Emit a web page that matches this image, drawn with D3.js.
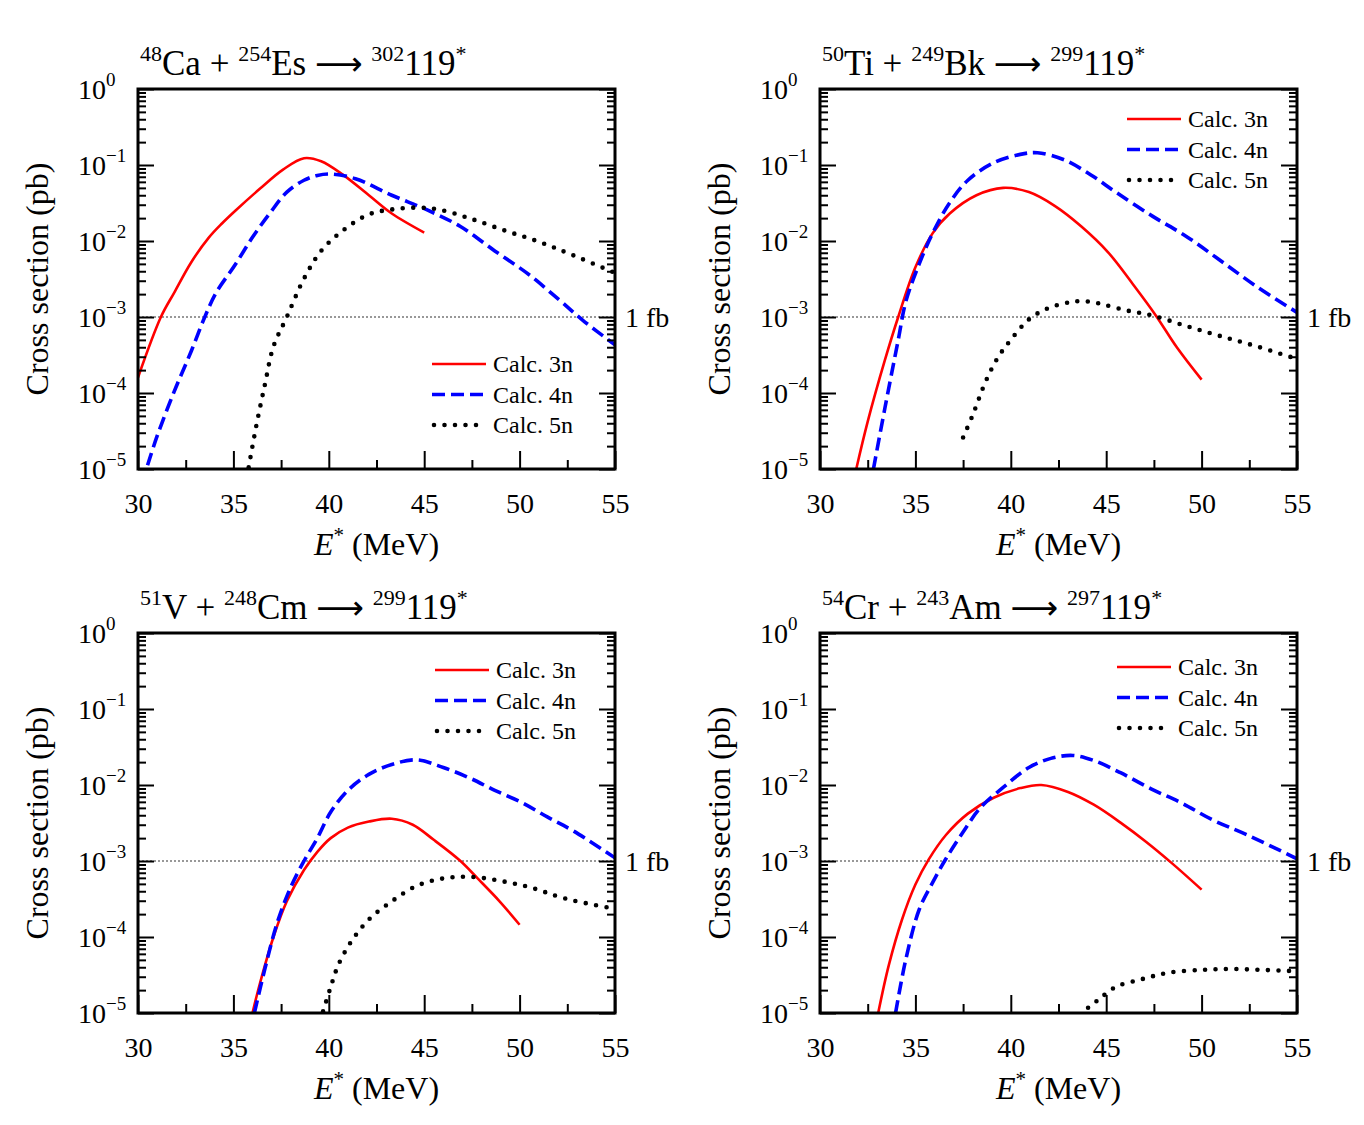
<!DOCTYPE html>
<html>
<head>
<meta charset="utf-8">
<script src="https://cdn.jsdelivr.net/npm/d3@7"></script>
<style>
  body { margin: 0; background: #fff; }
  svg { display: block; }
</style>
</head>
<body>
<svg id="chart" width="1364" height="1125"></svg>
<script>
// ---- data (E* in MeV, cross section in pb) ----
const seriesNames = ["Calc. 3n", "Calc. 4n", "Calc. 5n"];
const xTickLabels = [30, 35, 40, 45, 50, 55];

// 48Ca + 254Es
const caEs3nE = [30, 31.2, 31.9, 32.8, 33.7, 34.4, 35.1, 36.4, 37.6, 38.7, 39.6, 40.75, 42.1, 43.3, 45];
const caEs3nS = [1.6e-4, 1.0e-3, 2.1e-3, 5.3e-3, 1.1e-2, 1.7e-2, 2.5e-2, 4.9e-2, 8.7e-2, 0.123, 0.112, 0.074, 0.040, 0.023, 0.0129];
const caEs4nE = [30.5, 31.0, 31.9, 32.8, 33.5, 34.1, 35.1, 36.0, 36.9, 37.8, 38.7, 39.4, 40.1, 41.4, 43.3, 45.1, 46.9, 48.7, 50.5, 52.1, 53.3, 55];
const caEs4nS = [1.12e-5, 2.7e-5, 1.05e-4, 3.6e-4, 1.0e-3, 2.1e-3, 4.9e-3, 1.12e-2, 2.3e-2, 4.4e-2, 6.3e-2, 7.3e-2, 7.6e-2, 6.6e-2, 4.0e-2, 2.6e-2, 1.55e-2, 7.4e-3, 3.6e-3, 1.66e-3, 9.1e-4, 4.3e-4];
const caEs5nE = [35.8, 36.2, 36.65, 37.1, 37.8, 38.7, 39.6, 40.75, 42.1, 43.3, 44.6, 45.75, 47.35, 49.2, 51.0, 52.8, 55];
const caEs5nS = [1.05e-5, 3.7e-5, 1.29e-4, 4.1e-4, 1.0e-3, 3.2e-3, 7.4e-3, 1.38e-2, 2.24e-2, 2.6e-2, 2.75e-2, 2.6e-2, 2.0e-2, 1.38e-2, 9.8e-3, 6.5e-3, 3.8e-3];

// 50Ti + 249Bk
const tiBk3nE = [31.9, 32.5, 33.4, 34.1, 35.0, 35.9, 36.8, 38.2, 39.6, 40.95, 42.3, 43.7, 45.1, 46.45, 47.6, 48.7, 50];
const tiBk3nS = [1.0e-5, 4.2e-5, 2.7e-4, 1.0e-3, 4.5e-3, 1.26e-2, 2.3e-2, 4.0e-2, 5.0e-2, 4.4e-2, 2.9e-2, 1.55e-2, 7.1e-3, 2.6e-3, 1.05e-3, 4.0e-4, 1.5e-4];
const tiBk4nE = [32.8, 33.4, 34.1, 34.5, 35.2, 35.9, 36.8, 37.75, 39.1, 40.5, 41.4, 42.8, 44.2, 45.5, 47.4, 49.2, 51.0, 52.9, 55];
const tiBk4nS = [1.0e-5, 6.3e-5, 5.0e-4, 1.6e-3, 5.0e-3, 1.26e-2, 3.2e-2, 6.3e-2, 0.107, 0.138, 0.145, 0.117, 0.074, 0.044, 0.0214, 0.0115, 5.5e-3, 2.5e-3, 1.15e-3];
const tiBk5nE = [37.5, 38.0, 38.7, 39.35, 40.0, 40.95, 41.9, 43.0, 43.7, 44.6, 46.0, 47.4, 49.2, 51.0, 52.9, 55];
const tiBk5nS = [2.6e-5, 5.1e-5, 1.45e-4, 3.0e-4, 5.0e-4, 9.3e-4, 1.29e-3, 1.55e-3, 1.62e-3, 1.51e-3, 1.23e-3, 1.05e-3, 7.6e-4, 5.6e-4, 4.1e-4, 2.8e-4];

// 51V + 248Cm
const vCm3nE = [36.0, 36.4, 37.1, 37.8, 38.7, 39.4, 40.1, 41.0, 42.1, 43.3, 44.4, 45.5, 46.9, 47.8, 48.95, 50];
const vCm3nS = [1.0e-5, 2.5e-5, 1.0e-4, 2.95e-4, 7.6e-4, 1.32e-3, 2.0e-3, 2.75e-3, 3.3e-3, 3.6e-3, 3.0e-3, 1.9e-3, 1.0e-3, 5.9e-4, 2.95e-4, 1.45e-4];
const vCm4nE = [36.1, 36.65, 37.3, 38.0, 38.7, 39.4, 40.1, 41.0, 42.1, 43.3, 44.6, 46.0, 47.4, 48.7, 50.1, 51.45, 52.8, 55];
const vCm4nS = [1.0e-5, 3.8e-5, 1.55e-4, 4.5e-4, 1.0e-3, 2.0e-3, 4.4e-3, 8.5e-3, 1.38e-2, 1.86e-2, 2.14e-2, 1.7e-2, 1.23e-2, 8.5e-3, 5.9e-3, 3.8e-3, 2.5e-3, 1.1e-3];
const vCm5nE = [39.7, 40.1, 40.5, 41.2, 42.1, 43.3, 44.6, 46.0, 47.4, 48.95, 50.55, 52.4, 55];
const vCm5nS = [1.05e-5, 2.2e-5, 4.3e-5, 8.9e-5, 1.7e-4, 2.95e-4, 4.7e-4, 5.9e-4, 6.2e-4, 5.5e-4, 4.5e-4, 3.2e-4, 2.35e-4];

// 54Cr + 243Am
const crAm3nE = [33.05, 33.6, 34.3, 35.0, 35.7, 36.6, 37.75, 39.1, 40.5, 41.6, 43.0, 44.35, 45.75, 47.1, 48.5, 50];
const crAm3nS = [1.0e-5, 4.2e-5, 1.7e-4, 4.9e-4, 1.05e-3, 2.2e-3, 4.2e-3, 6.8e-3, 9.1e-3, 1.0e-2, 8.1e-3, 5.5e-3, 3.2e-3, 1.78e-3, 9.1e-4, 4.2e-4];
const crAm4nE = [33.96, 34.5, 35.2, 35.9, 36.6, 37.5, 38.4, 39.6, 40.95, 42.1, 43.25, 44.35, 45.75, 47.35, 48.95, 50.55, 52.4, 55];
const crAm4nS = [1.0e-5, 5.1e-5, 2.3e-4, 5.2e-4, 1.07e-3, 2.4e-3, 5.0e-3, 9.3e-3, 1.7e-2, 2.24e-2, 2.45e-2, 2.1e-2, 1.45e-2, 8.9e-3, 5.8e-3, 3.5e-3, 2.2e-3, 1.07e-3];
const crAm5nE = [44.05, 44.6, 45.5, 46.9, 48.3, 50.1, 51.45, 53.05, 55];
const crAm5nS = [1.17e-5, 1.5e-5, 2.2e-5, 2.8e-5, 3.4e-5, 3.7e-5, 3.8e-5, 3.7e-5, 3.55e-5];

// titles: [text, kind]  kind 0 = normal, 1 = superscript, 2 = arrow
const titleCaEs = [["48", 1], ["Ca + ", 0], ["254", 1], ["Es ", 0], ["\u27f6", 2], [" ", 0], ["302", 1], ["119", 0], ["*", 1]];
const titleTiBk = [["50", 1], ["Ti + ", 0], ["249", 1], ["Bk ", 0], ["\u27f6", 2], [" ", 0], ["299", 1], ["119", 0], ["*", 1]];
const titleVCm  = [["51", 1], ["V + ", 0], ["248", 1], ["Cm ", 0], ["\u27f6", 2], [" ", 0], ["299", 1], ["119", 0], ["*", 1]];
const titleCrAm = [["54", 1], ["Cr + ", 0], ["243", 1], ["Am ", 0], ["\u27f6", 2], [" ", 0], ["297", 1], ["119", 0], ["*", 1]];

const oneFb = 1e-3;

// ---- layout ----
const FONT = "'Liberation Serif', 'Times New Roman', serif";
const W = 477, H = 380;
const panels = [
  { left: 138, top: 89, title: titleCaEs, legend: [294, 275],
    series: [[caEs3nE, caEs3nS], [caEs4nE, caEs4nS], [caEs5nE, caEs5nS]] },
  { left: 820, top: 89, title: titleTiBk, legend: [307, 30],
    series: [[tiBk3nE, tiBk3nS], [tiBk4nE, tiBk4nS], [tiBk5nE, tiBk5nS]] },
  { left: 138, top: 633, title: titleVCm, legend: [297, 37],
    series: [[vCm3nE, vCm3nS], [vCm4nE, vCm4nS], [vCm5nE, vCm5nS]] },
  { left: 820, top: 633, title: titleCrAm, legend: [297, 34],
    series: [[crAm3nE, crAm3nS], [crAm4nE, crAm4nS], [crAm5nE, crAm5nS]] }
];

const styles = [
  { color: "#ff0000", width: 2.6, dash: null, cap: "butt" },
  { color: "#0000ff", width: 3.6, dash: "13,6", cap: "butt" },
  { color: "#000000", width: 4.6, dash: "0,10.5", cap: "round" }
];

const svg = d3.select("#chart");

const x = d3.scaleLinear().domain([30, 55]).range([0, W]);
const y = d3.scaleLog().domain([1e-5, 1]).range([H, 0]);

const xTicks = d3.range(30, 55.01, 2.5);
const yMajor = d3.range(-5, 1).map(e => Math.pow(10, e));
const yMinor = d3.range(-5, 0).flatMap(e => d3.range(2, 10).map(m => m * Math.pow(10, e)));
const yTicks = yMajor.concat(yMinor);
const isMajorY = d => yMajor.some(v => Math.abs(v - d) / v < 1e-6);

function richText(text, parts, size, supSize, rise) {
  let up = false;
  parts.forEach(([t, kind]) => {
    const sup = kind === 1;
    const ts = text.append("tspan").text(t).attr("font-size", sup ? supSize : size);
    if (kind === 2) ts.attr("font-family", "'DejaVu Sans', sans-serif").attr("font-size", size * 0.95);
    if (sup && !up) { ts.attr("dy", -rise); up = true; }
    else if (!sup && up) { ts.attr("dy", rise); up = false; }
  });
}

const line = d3.line()
  .x(d => x(d[0]))
  .y(d => y(d[1]))
  .curve(d3.curveCatmullRom.alpha(0.5));

panels.forEach((p, i) => {
  const g = svg.append("g").attr("transform", `translate(${p.left},${p.top})`);

  g.append("clipPath").attr("id", "clip" + i)
    .append("rect").attr("width", W).attr("height", H);

  // 1 fb reference
  g.append("line")
    .attr("x1", 0).attr("x2", W)
    .attr("y1", y(oneFb)).attr("y2", y(oneFb))
    .attr("stroke", "#777").attr("stroke-width", 1.3)
    .attr("stroke-dasharray", "2,2");

  g.append("text")
    .attr("x", W + 10).attr("y", y(oneFb)).attr("dy", "0.35em")
    .attr("font-size", 28).text("1 fb");

  // curves
  const curves = g.append("g").attr("clip-path", `url(#clip${i})`);
  p.series.forEach(([es, ss], k) => {
    const st = styles[k];
    curves.append("path")
      .datum(es.map((e, j) => [e, ss[j]]))
      .attr("d", line)
      .attr("fill", "none")
      .attr("stroke", st.color)
      .attr("stroke-width", st.width)
      .attr("stroke-linecap", st.cap)
      .attr("stroke-dasharray", st.dash);
  });

  // axes
  const xAxis = g.append("g").attr("transform", `translate(0,${H})`)
    .call(d3.axisBottom(x).tickValues(xTicks).tickSize(-18).tickPadding(24)
      .tickFormat(d => xTickLabels.includes(d) ? d : ""));
  xAxis.selectAll(".tick line")
    .attr("y2", d => xTickLabels.includes(d) ? -18 : -9)
    .attr("stroke-width", 2);

  const yLeft = g.append("g")
    .call(d3.axisLeft(y).tickValues(yTicks).tickSize(-16).tickFormat(""));
  yLeft.selectAll(".tick line")
    .attr("x2", d => isMajorY(d) ? 16 : 8)
    .attr("stroke-width", 2);
  yLeft.selectAll(".tick text").filter(d => isMajorY(d))
    .attr("text-anchor", "start").attr("x", -60).attr("dy", "0.35em")
    .each(function (d) {
      const ex = Math.round(Math.log10(d));
      const t = d3.select(this);
      t.append("tspan").text("10");
      t.append("tspan").attr("font-size", 19).attr("dy", -13)
        .text(ex < 0 ? "\u2212" + (-ex) : String(ex));
    });

  const yRight = g.append("g").attr("transform", `translate(${W},0)`)
    .call(d3.axisRight(y).tickValues(yTicks).tickSize(-16).tickFormat(""));
  yRight.selectAll(".tick line")
    .attr("x2", d => isMajorY(d) ? -16 : -8)
    .attr("stroke-width", 2);

  [xAxis, yLeft, yRight].forEach(a => {
    a.attr("font-size", 28);
    a.select(".domain").remove();
    a.selectAll(".tick text").attr("fill", "#000");
  });

  g.append("rect")
    .attr("width", W).attr("height", H)
    .attr("fill", "none").attr("stroke", "#000").attr("stroke-width", 3);

  // axis titles
  g.append("text")
    .attr("transform", `translate(-90,${H / 2}) rotate(-90)`)
    .attr("text-anchor", "middle").attr("font-size", 32)
    .text("Cross section (pb)");

  const xl = g.append("text")
    .attr("x", W / 2).attr("y", H + 86)
    .attr("text-anchor", "middle").attr("font-size", 32);
  xl.append("tspan").attr("font-style", "italic").text("E");
  xl.append("tspan").attr("font-size", 21).attr("dy", -13).text("*");
  xl.append("tspan").attr("dy", 13).text(" (MeV)");

  // panel title
  const tt = g.append("text").attr("x", 2).attr("y", -14).attr("font-size", 35);
  richText(tt, p.title, 35, 22, 14);

  // legend
  const lg = g.append("g").attr("transform", `translate(${p.legend[0]},${p.legend[1]})`);
  seriesNames.forEach((name, k) => {
    const st = styles[k];
    const row = lg.append("g").attr("transform", `translate(0,${k * 30.5})`);
    row.append("line")
      .attr("x1", k === 2 ? 2 : 0).attr("x2", 54)
      .attr("stroke", st.color)
      .attr("stroke-width", st.width)
      .attr("stroke-linecap", st.cap)
      .attr("stroke-dasharray", st.dash);
    row.append("text")
      .attr("x", 61).attr("dy", "0.35em")
      .attr("font-size", 24).text(name);
  });
});

// every label in the serif face
svg.selectAll("text").attr("font-family", FONT);
</script>
</body>
</html>
